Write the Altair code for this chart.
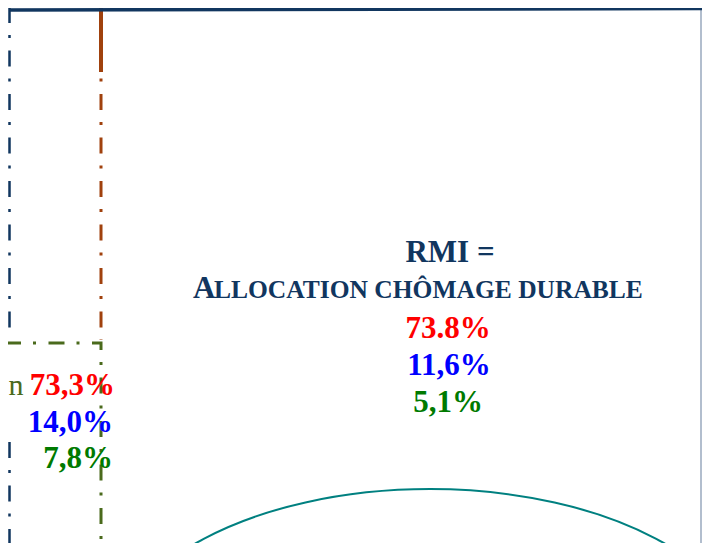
import altair as alt
import pandas as pd

# ---------------- data (page pixel coordinates of the diagram) ----------------
# frame lines
top_x = [9, 702]
top_y = [10, 8.5]
right_x = [701, 701]
right_y = [5, 551]
navy_seg = [1, 1, 2, 2]
navy_x = [9.5, 9.5, 9.5, 9.5]
navy_y = [7, 330, 442, 551]
brown_solid_x = [101, 101]
brown_solid_y = [0, 72]
brown_dash_x = [101, 101]
brown_dash_y = [7, 340]
green_x = [5, 101, 101]
green_y = [343, 343, 551]

# ellipse (centre)
ell_cx = [430]
ell_cy = [659]

# texts
c_text = ["RMI =", "73.8%", "11,6%", "5,1%"]
c_x = [450, 448, 449, 448]
c_y = [262, 338, 375, 412]
c_col = ["#11365f", "#ff0000", "#0000ff", "#007a00"]

l_text = ["A", "LLOCATION CHÔMAGE DURABLE"]
l_x = [193, 214]
l_y = [298, 298]
l_size = [31, 25.5]

r_text = ["73,3%", "14,0%", "7,8%"]
r_x = [115, 113, 113]
r_y = [395, 432, 468]
r_col = ["#ff0000", "#0000ff", "#007a00"]

n_text = ["n"]
n_x = [8.5]
n_y = [395]

NAVY = "#11365f"
BROWN = "#a0410d"
OLIVE = "#4a6a1c"
TEAL = "#008080"

W = 694
H = 535
X_MAX = 8 + W
Y_MAX = 8 + H

X = lambda: alt.X("x:Q", scale=alt.Scale(domain=[8, X_MAX], nice=False, zero=False), axis=None)
Y = lambda: alt.Y("y:Q", scale=alt.Scale(domain=[Y_MAX, 8], nice=False, zero=False), axis=None)


def line_df(xs, ys, seg=None):
    return pd.DataFrame({"x": xs, "y": ys, "i": list(range(len(xs))),
                         "seg": seg if seg is not None else [1] * len(xs)})


def line_layer(df, color, width, dash=None):
    kw = dict(color=color, strokeWidth=width, clip=False)
    if dash:
        kw["strokeDash"] = dash
    return alt.Chart(df).mark_line(**kw).encode(
        x=X(), y=Y(), order="i:Q", detail="seg:N")


dash_pat = [16, 12, 3, 12.5]

layers = [
    line_layer(line_df(right_x, right_y), "#7f93ad", 1.2),
    line_layer(line_df(navy_x, navy_y, navy_seg), NAVY, 2.5, dash_pat),
    line_layer(line_df(brown_dash_x, brown_dash_y), BROWN, 3, dash_pat),
    line_layer(line_df(brown_solid_x, brown_solid_y), BROWN, 4),
    line_layer(line_df(green_x, green_y), OLIVE, 3, dash_pat),
    line_layer(line_df(top_x, top_y), NAVY, 3.5),
]

k = 0.5523
ry = 0.531
ell_path = (f"M-1,0C-1,{-k*ry:.4f},{-k:.4f},{-ry},0,{-ry}"
            f"C{k:.4f},{-ry},1,{-k*ry:.4f},1,0"
            f"C1,{k*ry:.4f},{k:.4f},{ry},0,{ry}"
            f"C{-k:.4f},{ry},-1,{k*ry:.4f},-1,0Z")
ell = alt.Chart(pd.DataFrame({"x": ell_cx, "y": ell_cy})).mark_point(
    shape=ell_path, size=640 * 640, filled=False, stroke=TEAL, strokeWidth=2,
    opacity=1, clip=False
).encode(x=X(), y=Y())
layers.append(ell)

FONT = "Liberation Serif"
c_df = pd.DataFrame({"x": c_x, "y": c_y, "t": c_text, "c": c_col})
layers.append(alt.Chart(c_df).mark_text(
    font=FONT, fontWeight="bold", fontSize=31, align="center", baseline="alphabetic"
).encode(x=X(), y=Y(), text="t:N", color=alt.Color("c:N", scale=None)))

l_df = pd.DataFrame({"x": l_x, "y": l_y, "t": l_text, "s": l_size})
layers.append(alt.Chart(l_df).mark_text(
    font=FONT, fontWeight="bold", align="left", baseline="alphabetic", color=NAVY
).encode(x=X(), y=Y(), text="t:N", size=alt.Size("s:Q", scale=None)))

r_df = pd.DataFrame({"x": r_x, "y": r_y, "t": r_text, "c": r_col})
layers.append(alt.Chart(r_df).mark_text(
    font=FONT, fontWeight="bold", fontSize=31, align="right", baseline="alphabetic"
).encode(x=X(), y=Y(), text="t:N", color=alt.Color("c:N", scale=None)))

n_df = pd.DataFrame({"x": n_x, "y": n_y, "t": n_text})
layers.append(alt.Chart(n_df).mark_text(
    font=FONT, fontSize=30, align="left", baseline="alphabetic", color=OLIVE
).encode(x=X(), y=Y(), text="t:N"))

chart = alt.layer(*layers).properties(
    width=W, height=H, padding=0,
    autosize=alt.AutoSizeParams(type="none"),
).configure_view(stroke=None)

chart.save("out.html", embed_options={"renderer": "svg", "actions": False})
